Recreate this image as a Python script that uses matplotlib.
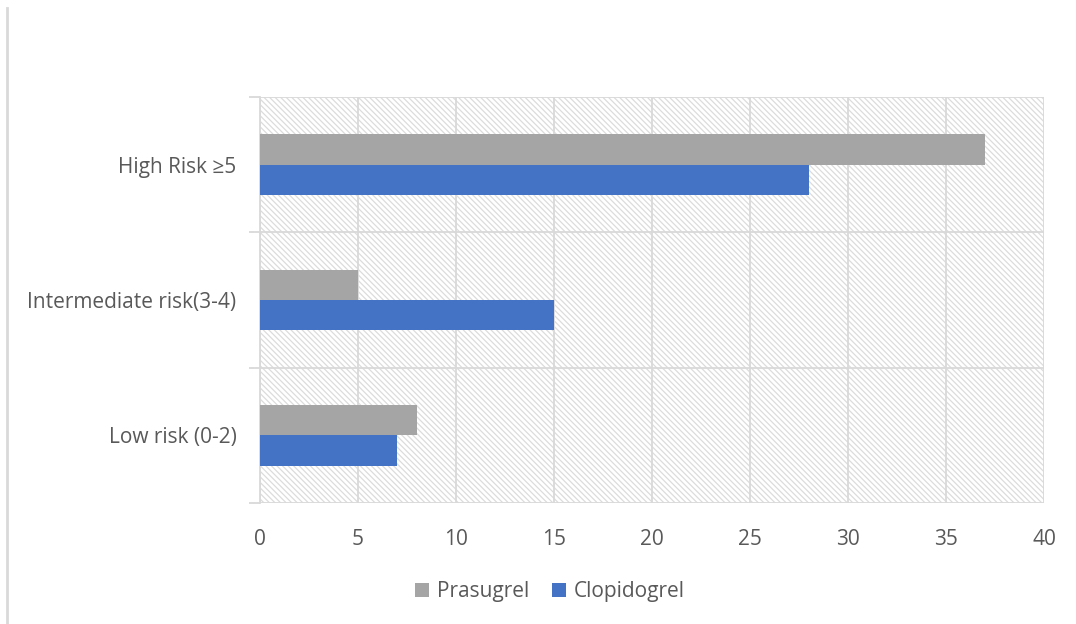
import numpy as np
import matplotlib.pyplot as plt
from matplotlib.patches import Rectangle
from matplotlib.lines import Line2D

plt.rcParams['font.family'] = ['Open Sans', 'DejaVu Sans']
plt.rcParams['hatch.color'] = '#dcdcdc'
plt.rcParams['hatch.linewidth'] = 0.9

categories = ['Low risk (0-2)', 'Intermediate risk(3-4)', 'High Risk \u22655']
prasugrel = [8, 5, 37]
clopidogrel = [7, 15, 28]
xticks = [0, 5, 10, 15, 20, 25, 30, 35, 40]

grid_col = '#d9d9d9'
text_col = '#595959'

fig = plt.figure(figsize=(10.76, 6.24), dpi=100)
ax = fig.add_axes([260 / 1076, 1 - 503 / 624, 784 / 1076, 406 / 624])

# hatched plot background
ax.add_patch(Rectangle((0, 0), 1, 1, transform=ax.transAxes, facecolor='white',
                       edgecolor='#dcdcdc', hatch='\\' * 6, linewidth=0, zorder=0))

y = np.arange(len(categories))
h = 0.225
ax.barh(y + h / 2, prasugrel, height=h, color='#a5a5a5', label='Prasugrel', zorder=3)
ax.barh(y - h / 2, clopidogrel, height=h, color='#4472c4', label='Clopidogrel', zorder=3)

ax.set_xlim(0, 40)
ax.set_ylim(-0.5, len(categories) - 0.5)
ax.set_xticks(xticks)
ax.set_yticks(y)
ax.set_yticklabels(categories)
ax.set_yticks(np.arange(-0.5, len(categories)), minor=True)

ax.grid(axis='x', color=grid_col, linewidth=1.3, zorder=1)
ax.grid(axis='y', which='minor', color=grid_col, linewidth=1.3, zorder=1)
ax.set_axisbelow(True)

ax.tick_params(axis='both', which='major', length=0, labelsize=15, labelcolor=text_col)
ax.tick_params(axis='x', pad=19)
ax.tick_params(axis='y', pad=17)
ax.tick_params(axis='y', which='minor', length=8, width=1.3, color=grid_col)

for side in ['top', 'right', 'bottom']:
    ax.spines[side].set_visible(False)
ax.spines['left'].set_color(grid_col)
ax.spines['left'].set_linewidth(1.3)

handles, labels = ax.get_legend_handles_labels()
fig.legend(handles, labels, loc='center', bbox_to_anchor=(0.5 + 12 / 1076, 1 - 592 / 624), ncol=2,
           frameon=False, fontsize=15, labelcolor=text_col, handlelength=0.65,
           handleheight=0.65, handletextpad=0.4, columnspacing=1.1)

# chart frame left edge
fig.add_artist(Line2D([7 / 1076, 7 / 1076], [0, 1 - 8 / 624], transform=fig.transFigure,
                      color=grid_col, linewidth=2))

fig.savefig('out.png', dpi=100)
